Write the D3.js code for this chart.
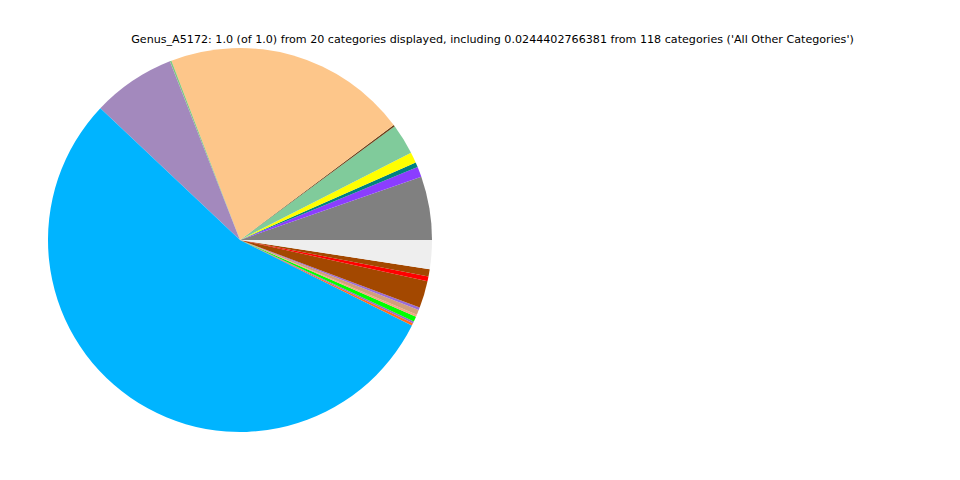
<!DOCTYPE html>
<html>
<head>
<meta charset="utf-8">
<script src="https://cdn.jsdelivr.net/npm/d3@7"></script>
<style>
  html, body { margin: 0; padding: 0; background: #ffffff; }
  svg { display: block; }
</style>
</head>
<body>
<svg id="chart" width="960" height="480"></svg>
<script>
const titleText = "Genus_A5172: 1.0 (of 1.0) from 20 categories displayed, including 0.0244402766381 from 118 categories ('All Other Categories')";

const categories = [
  "Category_01", "Category_02", "Category_03", "Category_04", "Category_05",
  "Category_06", "Category_07", "Category_08", "Category_09", "Category_10",
  "Category_11", "Category_12", "Category_13", "Category_14", "Category_15",
  "Category_16", "Category_17", "Category_18", "Category_19", "All Other Categories"
];
const values = [
  0.0533, 0.0086, 0.0042, 0.0089, 0.0258,
  0.0014, 0.2056, 0.0014, 0.0700, 0.5464,
  0.0019, 0.0017, 0.0044, 0.0017, 0.0042,
  0.0022, 0.0228, 0.0039, 0.0061, 0.0244
];
const colors = [
  "#808080", "#8b3dff", "#00827f", "#ffff00", "#80cb9b",
  "#6b3f17", "#fdc68a", "#7fc97f", "#a389bd", "#00b4ff",
  "#ff6a1a", "#9966cc", "#00ff00", "#f4a582", "#d2a07a",
  "#9a6cd6", "#a34800", "#ff0000", "#a34800", "#eeeeee"
];

const svg = d3.select("#chart");
const cx = 240, cy = 240, radius = 192;

const data = categories.map((c, i) => ({ name: c, value: values[i], color: colors[i] }));

// matplotlib style: start at 3 o'clock, go counterclockwise
const pie = d3.pie()
  .sort(null)
  .value(d => d.value)
  .startAngle(Math.PI / 2)
  .endAngle(Math.PI / 2 - 2 * Math.PI);

const arc = d3.arc().innerRadius(0).outerRadius(radius);

svg.append("g")
  .attr("transform", `translate(${cx},${cy})`)
  .selectAll("path")
  .data(pie(data))
  .join("path")
  .attr("d", arc)
  .attr("fill", d => d.data.color);

svg.append("text")
  .attr("x", 492.5)
  .attr("y", 43)
  .attr("text-anchor", "middle")
  .attr("font-family", "DejaVu Sans, sans-serif")
  .attr("font-size", "11.13px")
  .attr("fill", "#000")
  .text(titleText);
</script>
</body>
</html>
